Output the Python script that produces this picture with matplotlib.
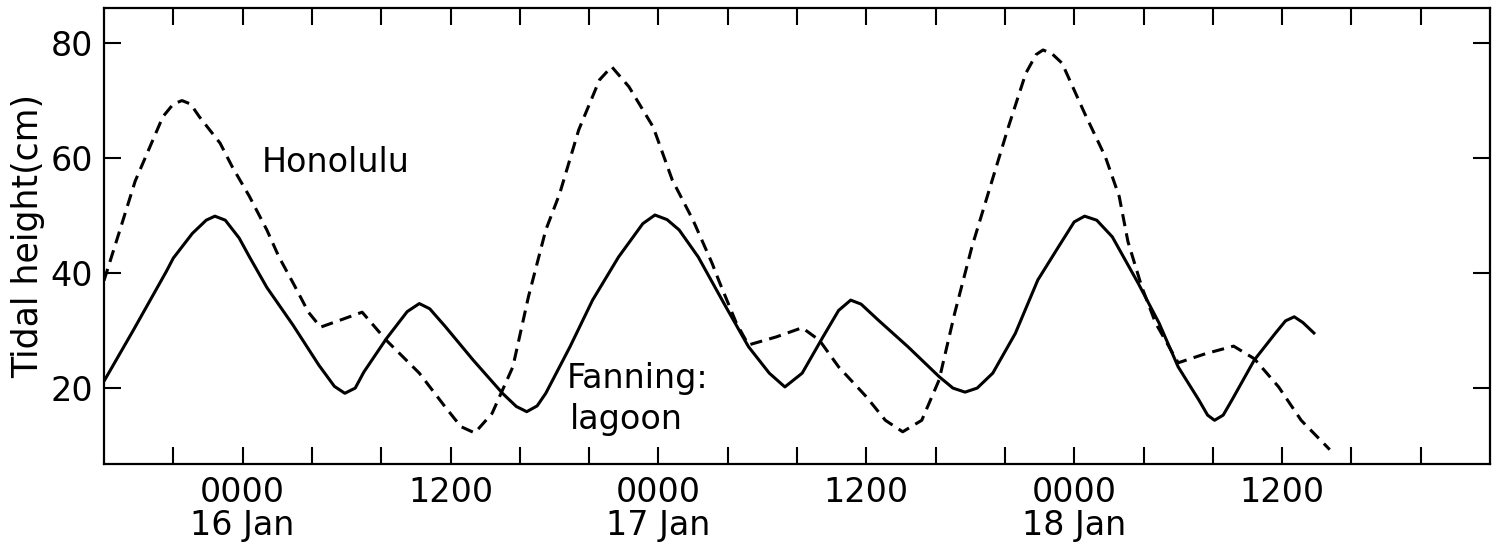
import matplotlib
matplotlib.use("Agg")
import matplotlib.pyplot as plt

# Hours relative to 0000 16 Jan
fanning_hours = [-8.0, -6.3, -4.4, -4.0, -2.9, -2.1, -1.6, -1.0, -0.2, 0.4, 1.4, 2.9, 4.4, 5.3, 5.9, 6.5, 7.0,
                 8.3, 9.5, 10.2, 10.8, 11.7, 13.3, 15.0, 15.8, 16.4, 17.0, 17.5, 18.9, 20.2, 21.7,
                 23.1, 23.8, 24.5, 25.2, 26.3, 27.9, 29.2, 30.4, 31.3, 32.3, 33.5, 34.4, 35.1, 35.7,
                 36.7, 38.4, 40.2, 41.0, 41.7, 42.4, 43.3, 44.6, 45.9, 47.1, 48.0, 48.6, 49.3, 50.2,
                 51.7, 52.9, 54.0, 55.2, 55.7, 56.1, 56.6, 57.1, 58.4, 59.6, 60.2, 60.7, 61.2, 61.9]
fanning_cm = [21.2, 30.1, 40.3, 42.6, 46.9, 49.2, 49.9, 49.2, 46.1, 42.8, 37.5, 31.0, 24.0, 20.3, 19.1, 20.0, 22.8,
              28.6, 33.3, 34.7, 33.8, 30.7, 24.9, 19.1, 16.8, 15.9, 16.9, 19.1, 27.2, 35.3, 42.8,
              48.6, 50.1, 49.3, 47.5, 42.8, 34.1, 27.2, 22.6, 20.2, 22.6, 28.9, 33.5, 35.3, 34.6,
              31.8, 27.2, 22.0, 20.0, 19.3, 20.0, 22.6, 29.5, 38.8, 44.6, 48.9, 49.9, 49.2, 46.3,
              38.2, 31.3, 23.7, 17.9, 15.3, 14.4, 15.3, 17.9, 24.9, 29.5, 31.7, 32.4, 31.4, 29.4]

honolulu_hours = [-8.0, -7.1, -6.2, -5.4, -4.6, -4.0, -3.5, -3.0, -2.5, -1.3, -0.6, 0.4, 1.4, 2.1, 3.0,
                  3.8, 4.5, 5.8, 6.9, 8.3, 10.2, 11.7, 12.6, 13.4, 14.4, 15.6, 16.5, 17.5, 18.3, 19.4,
                  20.6, 21.3, 22.3, 23.7, 24.8, 25.4, 26.0, 27.1, 27.5, 28.5, 29.2, 30.8, 32.3, 33.3,
                  34.4, 36.0, 37.1, 38.1, 39.2, 40.2, 41.1, 42.1, 43.1, 44.2, 45.2, 45.8, 46.2, 46.7,
                  47.3, 48.6, 49.8, 50.6, 51.1, 51.9, 52.7, 54.0, 55.6, 57.2, 58.4, 59.8, 61.1, 62.75]
honolulu_cm = [38.7, 47.3, 56.0, 61.6, 67.2, 69.4, 70.0, 69.4, 67.2, 62.6, 58.5, 53.3, 47.5, 42.8, 37.8,
               33.2, 30.6, 32.0, 33.2, 28.3, 22.6, 16.7, 13.3, 12.2, 15.6, 23.7, 35.9, 47.5, 53.8, 64.9,
               73.6, 75.9, 72.4, 65.4, 56.2, 52.7, 49.2, 41.7, 38.6, 31.3, 27.5, 28.9, 30.5, 28.3,
               23.7, 18.5, 14.4, 12.4, 14.4, 21.4, 33.0, 44.6, 54.5, 65.4, 74.7, 78.0, 78.8, 78.2,
               76.5, 67.8, 60.2, 53.3, 45.5, 37.6, 31.3, 24.4, 26.0, 27.3, 25.1, 20.2, 14.4, 9.3]

x_ticks = list(range(-4, 72, 4))
x_label_map = {0: "0000\n16 Jan", 12: "1200", 24: "0000\n17 Jan",
               36: "1200", 48: "0000\n18 Jan", 60: "1200"}
y_ticks = [20, 40, 60, 80]

plt.rcParams['font.family'] = ['DejaVu Sans']

fig = plt.figure(figsize=(14.92, 5.47), dpi=100)
ax = fig.add_axes([104 / 1492, (547 - 464) / 547, (1490 - 104) / 1492, (464 - 8) / 547])

ax.plot(fanning_hours, fanning_cm, color='black', lw=2.2, solid_joinstyle='round',
        solid_capstyle='butt')
ax.plot(honolulu_hours, honolulu_cm, color='black', lw=2.2, linestyle=(0, (4, 2.4)))

ax.set_xlim(-8, 72)
ax.set_ylim(6.8, 86.1)

ax.set_xticks(x_ticks)
ax.set_xticklabels([x_label_map.get(t, "") for t in x_ticks], fontsize=24, linespacing=1.0)
ax.set_yticks(y_ticks)
ax.set_yticklabels([str(v) for v in y_ticks], fontsize=24)

ax.tick_params(axis='both', which='major', direction='in', length=12, width=1.5,
               top=True, right=True, labeltop=False, labelright=False)
ax.tick_params(axis='x', pad=9)
ax.tick_params(axis='y', pad=8)

for s in ax.spines.values():
    s.set_linewidth(1.6)

ax.set_ylabel("Tidal height(cm)", fontsize=25, labelpad=4)

ax.text(1.1, 57.5, "Honolulu", fontsize=24, va='baseline', ha='left')
ax.text(18.7, 20.0, "Fanning:", fontsize=24, va='baseline', ha='left')
ax.text(18.9, 12.8, "lagoon", fontsize=24, va='baseline', ha='left')

fig.savefig("out.png", dpi=100)
